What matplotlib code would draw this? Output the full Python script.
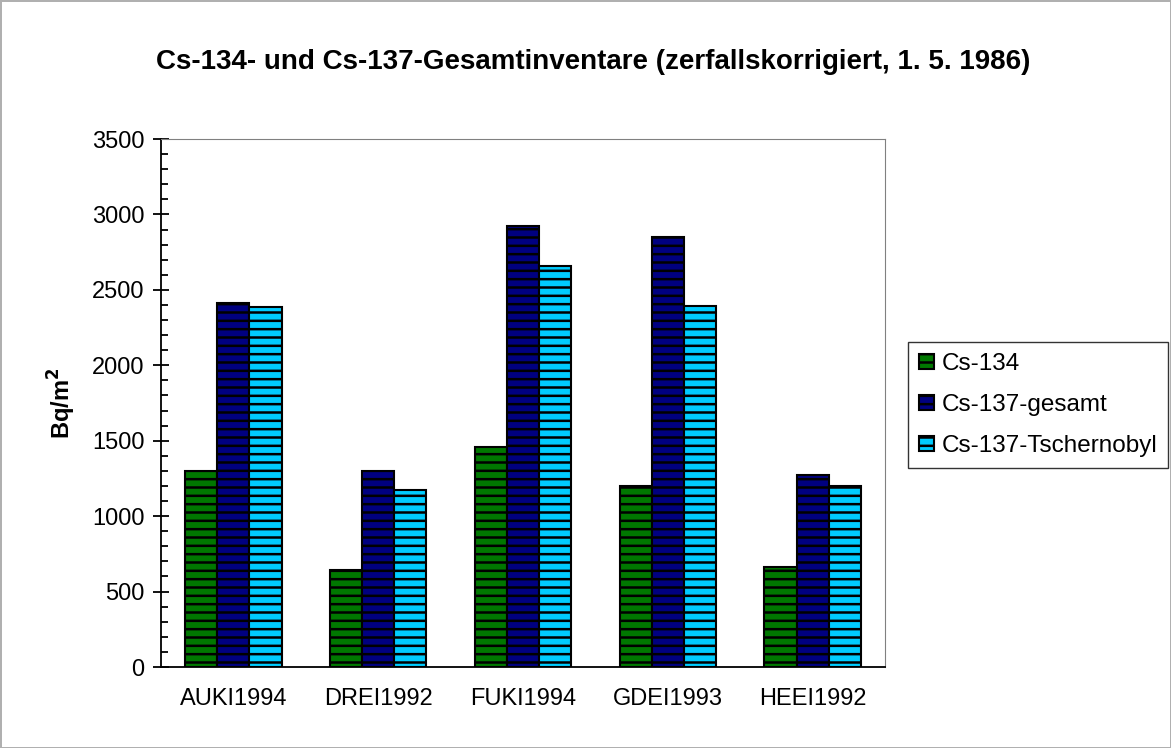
import matplotlib.pyplot as plt
import numpy as np
from matplotlib.ticker import MultipleLocator

plt.rcParams['font.family'] = ['Liberation Sans', 'DejaVu Sans']
plt.rcParams['hatch.color'] = 'black'
plt.rcParams['hatch.linewidth'] = 1.8

sites = ['AUKI1994', 'DREI1992', 'FUKI1994', 'GDEI1993', 'HEEI1992']
series_names = ['Cs-134', 'Cs-137-gesamt', 'Cs-137-Tschernobyl']
cs134 = [1300, 640, 1460, 1200, 660]
cs137_gesamt = [2410, 1300, 2920, 2850, 1275]
cs137_tschernobyl = [2385, 1175, 2660, 2390, 1200]
colors = ['#007800', '#000080', '#00CCFF']

W, H = 1171, 748
fig = plt.figure(figsize=(W / 100, H / 100), dpi=100)
fig.patch.set_edgecolor('#b0b0b0')
fig.patch.set_linewidth(2)
ax = fig.add_axes([161 / W, 1 - 667 / H, 724 / W, 528 / H])

x = np.arange(len(sites))
w = 0.222
for i, (vals, name) in enumerate(zip([cs134, cs137_gesamt, cs137_tschernobyl], series_names)):
    ax.bar(x + (i - 1) * w, vals, w, color=colors[i], edgecolor='black',
           linewidth=1.5, hatch='--', label=name)

ax.set_xlim(-0.5, 4.5)
ax.set_ylim(0, 3500)
ax.yaxis.set_major_locator(MultipleLocator(500))
ax.yaxis.set_minor_locator(MultipleLocator(100))
ax.tick_params(axis='y', which='major', direction='inout', length=12, width=1.3, labelsize=17, pad=6)
ax.tick_params(axis='y', which='minor', direction='in', length=5, width=1.3)
ax.tick_params(axis='x', length=0, labelsize=17, pad=15)
ax.set_xticks(x)
ax.set_xticklabels(sites)
for s in ['top', 'right']:
    ax.spines[s].set_color('#808080')
for s in ['left', 'bottom']:
    ax.spines[s].set_linewidth(1.3)

ax.set_ylabel('Bq/m$^\\mathbf{2}$', fontsize=17, fontweight='bold', labelpad=10)
fig.text(593 / W, 1 - 69 / H, 'Cs-134- und Cs-137-Gesamtinventare (zerfallskorrigiert, 1. 5. 1986)',
         ha='center', va='baseline', fontsize=20, fontweight='bold')

leg = ax.legend(loc='upper left', bbox_to_anchor=(908 / W, 1 - 342 / H),
                bbox_transform=fig.transFigure, fontsize=17.5, frameon=True, fancybox=False,
                edgecolor='black', handlelength=0.62, handleheight=0.55, handletextpad=0.3,
                borderpad=0.45, labelspacing=0.78, borderaxespad=0)
leg.get_frame().set_linewidth(1.0)

fig.savefig('out.png', dpi=100)
